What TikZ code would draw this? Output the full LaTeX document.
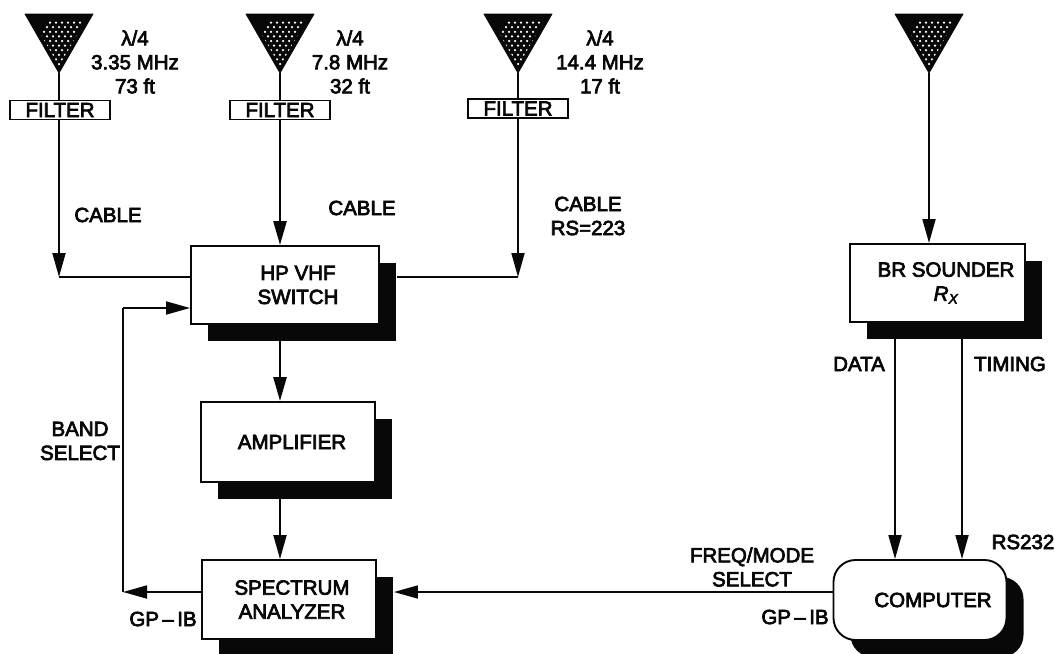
\documentclass[tikz,border=0pt]{standalone}
\usepackage{fontspec}
\setmainfont{Liberation Sans}[RawFeature={embolden=3.5}]
\usetikzlibrary{arrows.meta,calc,shadows}
\definecolor{ink}{gray}{0.03}
\newcommand{\tsize}{\fontsize{20.5}{24}\selectfont}
\newcommand{\sh}[1]{\hspace*{#1}}
\tikzset{
  box/.style={draw=ink,line width=1.9pt,fill=white,align=center,font=\tsize,text=ink,inner sep=0pt,
    drop shadow={shadow xshift=17pt,shadow yshift=-17pt,opacity=1,fill=ink}},
  wire/.style={draw=ink,line width=1.8pt},
  thick wire/.style={draw=ink,line width=2.6pt},
  arr/.style={wire,-{Stealth[length=24pt,width=13pt,inset=0pt]}},
  lab/.style={font=\tsize,text=ink,align=center,inner sep=0pt},
  filt/.style={draw=ink,line width=1.9pt,fill=white,font=\tsize,text=ink,inner sep=0pt,minimum width=100pt,minimum height=19pt},
  ant/.style={fill=ink,draw=ink,line join=round,line width=.8pt}
}
\newcommand{\antenna}[2]{%
  \coordinate (#1) at (#2,73);
  \fill[ant] (#1) -- ++(-34,-59) -- ++(68,0) -- cycle;
  \begin{scope}
    \clip ($(#1)+(0,-7)$) -- ++(-27,-47) -- ++(54,0) -- cycle;
    \foreach \r in {0,...,10}{
      \foreach \c in {-6,...,6}{
        \fill[white] ($(#1)+(\c*6+\r*3,-9-\r*4.6)$) circle (1.25);
      }
    }
  \end{scope}
}
\begin{document}
\begin{tikzpicture}[x=1pt,y=-1pt]
\useasboundingbox (0,0) rectangle (1054,653);
\fill[white] (0,0) rectangle (1054,653);

% antennas
\antenna{a1}{59}
\antenna{a2}{280}
\antenna{a3}{518}
\antenna{a4}{929}

% filters
\node[filt] (f1) at (60,110) {FILTER};
\node[filt] (f2) at (280,110) {FILTER};
\node[filt] (f3) at (518,108.5) {FILTER};

% boxes
\node[box,minimum width=188pt,minimum height=78pt] (hp) at (285,285) {\sh{26pt}HP VHF\\\sh{26pt}SWITCH};
\node[box,minimum width=174pt,minimum height=80pt] (amp) at (288,442) {\sh{8pt}AMPLIFIER};
\node[box,minimum width=174pt,minimum height=79pt] (spec) at (289,599.5) {\sh{6pt}SPECTRUM\\\sh{6pt}ANALYZER};
\node[box,minimum width=175pt,minimum height=78pt] (sdr) at (937.5,283) {\sh{17pt}BR SOUNDER\\\sh{17pt}\textit{R}\lower3pt\hbox{\fontsize{14}{14}\selectfont\textit{X}}};
\node[box,rounded corners=22pt,minimum width=173pt,minimum height=80pt] (comp) at (920,600) {\sh{26pt}COMPUTER};

% helper coordinates
\coordinate (cl1) at (59,277);
\coordinate (cl3) at (518,277);
\coordinate (bus) at (123,592);
\coordinate (bandtop) at (123,308);
\coordinate (dx) at (895,340);
\coordinate (tx) at (962,340);

% connectors
\draw[thick wire] (a1) -- (f1.north -| a1);
\draw[thick wire] (a2) -- (f2.north -| a2);
\draw[thick wire] (a3) -- (f3.north -| a3);

\draw[arr] (f1.south -| a1) -- (cl1);
\draw[wire] (cl1) -- (hp.west |- cl1);
\draw[arr,line width=2.6pt] (f2.south -| a2) -- (hp.north -| a2);
\draw[arr] (f3.south -| a3) -- (cl3);
\draw[wire] (cl3) -- ($(hp.east |- cl3)+(17,0)$);
\draw[arr] (a4) -- (sdr.north -| a4);

\draw[arr,line width=2.6pt] (hp.south -| a2) -- (amp.north -| a2);
\draw[arr] (amp.south -| a2) -- (spec.north -| a2);

\draw[arr] (spec.west |- bus) -- (bus);
\draw[wire] (bus) -- (bandtop);
\draw[arr] (bandtop) -- (hp.west |- bandtop);

\draw[arr] (comp.west |- bus) -- ($(spec.east |- bus)+(17,0)$);
\draw[arr] (sdr.south -| dx) -- (comp.north -| dx);
\draw[arr] (sdr.south -| tx) -- (comp.north -| tx);

% labels
\node[lab] (l1) at (135,62) {λ/4\\3.35 MHz\\73 ft};
\node[lab] (l2) at (350,62) {λ/4\\7.8 MHz\\32 ft};
\node[lab] (l3) at (600,62) {λ/4\\14.4 MHz\\17 ft};
\node[lab] (c1) at (108,215) {CABLE};
\node[lab] (c2) at (362,208) {CABLE};
\node[lab] (c3) at (588,216) {CABLE\\RS=223};
\node[lab] (bsl) at (80,441) {BAND\\SELECT};
\node[lab] (gp1) at (163,619) {GP\,–\,IB};
\node[lab] (gp2) at (795,617) {GP\,–\,IB};
\node[lab] (fm) at (752,567) {FREQ/MODE\\SELECT};
\node[lab] (dl) at (859,364) {DATA};
\node[lab] (tl) at (1010,364) {TIMING};
\node[lab] (rs) at (1023,542) {RS232};
\end{tikzpicture}
\end{document}
